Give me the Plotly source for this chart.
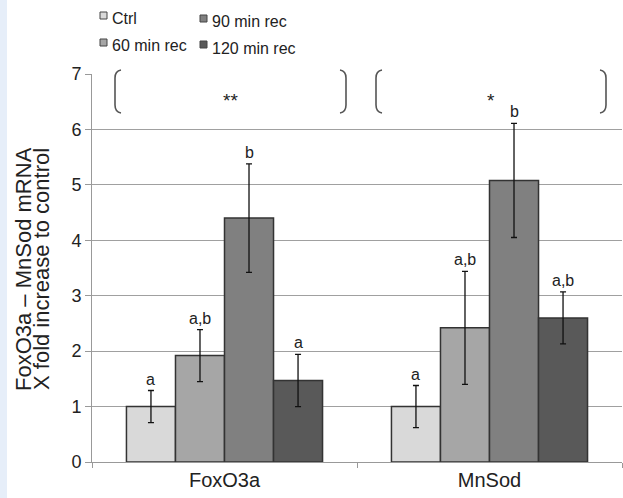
import plotly.graph_objects as go

# ---- data ----
categories = ["FoxO3a", "MnSod"]
series_names = ["Ctrl", "60 min rec", "90 min rec", "120 min rec"]
ctrl = [1.0, 1.0]
rec60 = [1.92, 2.42]
rec90 = [4.40, 5.08]
rec120 = [1.47, 2.60]
ctrl_err = [0.29, 0.38]
rec60_err = [0.47, 1.02]
rec90_err = [0.98, 1.03]
rec120_err = [0.47, 0.47]
ctrl_lbl = ["a", "a"]
rec60_lbl = ["a,b", "a,b"]
rec90_lbl = ["b", "b"]
rec120_lbl = ["a", "a,b"]
group_marks = ["**", "*"]
y_ticks = [0, 1, 2, 3, 4, 5, 6, 7]

values = [ctrl, rec60, rec90, rec120]
errors = [ctrl_err, rec60_err, rec90_err, rec120_err]
labels = [ctrl_lbl, rec60_lbl, rec90_lbl, rec120_lbl]
colors = ["#d9d9d9", "#a6a6a6", "#808080", "#595959"]

W, H = 623, 498
ML, MR, MT, MB = 92, 1, 74, 36
PW = W - ML - MR
PH = H - MT - MB
FONT = "Liberation Sans, Arial, sans-serif"


def px2x(px):
    return (px - ML) / PW


def px2y(py):
    return (H - MB - py) / PH


fig = go.Figure()
for name, vals, errs, col in zip(series_names, values, errors, colors):
    fig.add_trace(go.Bar(
        name=name, x=categories, y=vals,
        marker=dict(color=col, line=dict(color="#333333", width=1.5)),
        error_y=dict(type="data", array=errs, visible=True,
                     color="#111111", thickness=1.3, width=3),
        showlegend=False,
    ))

annotations = []
shapes = []

# letter labels above error bars
nser = len(series_names)
bargap = 0.26
bw = (1 - bargap) / nser
for si in range(nser):
    for ci in range(len(categories)):
        xoff = -0.5 + bargap / 2 + bw * (si + 0.5)
        annotations.append(dict(
            x=ci + xoff, y=values[si][ci] + errors[si][ci], xref="x", yref="y",
            text=labels[si][ci], showarrow=False, xanchor="center", yanchor="bottom", yshift=1,
            font=dict(size=16, color="#222222", family=FONT),
        ))

# brackets ( ... ) with significance marks
brackets = [(115, 346), (376, 606)]
ytop, ybot = 70, 113
for (xl, xr), mark in zip(brackets, group_marks):
    c = 6
    pl = (f"M {px2x(xl + c)},{px2y(ytop)} Q {px2x(xl)},{px2y(ytop + 1)} {px2x(xl)},{px2y(ytop + 8)} "
          f"L {px2x(xl)},{px2y(ybot - 8)} Q {px2x(xl)},{px2y(ybot - 1)} {px2x(xl + c)},{px2y(ybot)}")
    pr = (f"M {px2x(xr - c)},{px2y(ytop)} Q {px2x(xr)},{px2y(ytop + 1)} {px2x(xr)},{px2y(ytop + 8)} "
          f"L {px2x(xr)},{px2y(ybot - 8)} Q {px2x(xr)},{px2y(ybot - 1)} {px2x(xr - c)},{px2y(ybot)}")
    for p in (pl, pr):
        shapes.append(dict(type="path", path=p, xref="paper", yref="paper",
                           line=dict(color="#555555", width=1.6)))
    annotations.append(dict(
        x=px2x((xl + xr) / 2), y=px2y(101), xref="paper", yref="paper",
        text=mark, showarrow=False, xanchor="center", yanchor="middle",
        font=dict(size=19, color="#222222", family=FONT),
    ))

# custom legend (two columns)
legend_pos = {
    "Ctrl": (100, 12, 18.5),
    "60 min rec": (100, 39, 45),
    "90 min rec": (200, 15, 21.5),
    "120 min rec": (200, 41, 48),
}
for name, col in zip(series_names, colors):
    lx, sy, ty = legend_pos[name]
    shapes.append(dict(type="rect", xref="paper", yref="paper",
                       x0=px2x(lx), x1=px2x(lx + 7), y0=px2y(sy), y1=px2y(sy + 7),
                       fillcolor=col, line=dict(color="#444444", width=1)))
    annotations.append(dict(
        x=px2x(lx + 10), y=px2y(ty), xref="paper", yref="paper",
        text=name, showarrow=False, xanchor="left", yanchor="middle",
        font=dict(size=16, color="#222222", family=FONT),
    ))

# y-axis title as two rotated lines
annotations.append(dict(x=px2x(23), y=px2y(269), xref="paper", yref="paper",
                        text="FoxO3a – MnSod mRNA", textangle=-90, showarrow=False,
                        xanchor="center", yanchor="middle",
                        font=dict(size=22, color="#222222", family=FONT)))
annotations.append(dict(x=px2x(41), y=px2y(269), xref="paper", yref="paper",
                        text="X fold increase to control", textangle=-90, showarrow=False,
                        xanchor="center", yanchor="middle",
                        font=dict(size=22, color="#222222", family=FONT)))

# left light-blue strip
shapes.append(dict(type="rect", xref="paper", yref="paper", layer="below",
                   x0=px2x(0), x1=px2x(7), y0=px2y(H), y1=px2y(0),
                   fillcolor="#e6eef9", line=dict(width=0)))

fig.update_layout(
    width=W, height=H,
    margin=dict(l=ML, r=MR, t=MT, b=MB, pad=0),
    paper_bgcolor="white", plot_bgcolor="white",
    barmode="group", bargap=bargap, bargroupgap=0,
    font=dict(family=FONT, color="#222222"),
    annotations=annotations, shapes=shapes,
    showlegend=False,
)
fig.update_xaxes(
    type="category", showline=True, linecolor="#999999", linewidth=1,
    ticks="outside", tickson="boundaries", ticklen=5, tickcolor="#999999",
    tickfont=dict(size=20, color="#222222", family=FONT), showgrid=False,
)
fig.update_yaxes(
    range=[0, 7], tickvals=y_ticks, showline=True, linecolor="#999999", linewidth=1,
    ticks="outside", ticklen=6, tickcolor="#999999",
    tickfont=dict(size=18, color="#222222", family=FONT),
    showgrid=True, gridcolor="#a0a0a0", gridwidth=1, zeroline=False,
)

fig.write_html("out.html", config={"displayModeBar": False},
               post_script="document.body.style.margin='0';")
